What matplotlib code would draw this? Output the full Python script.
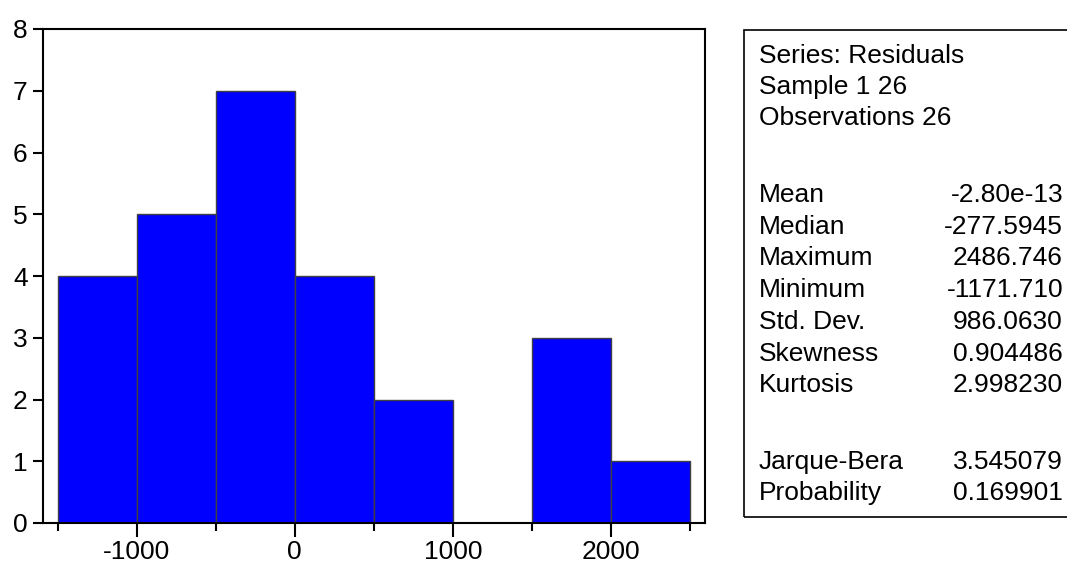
import numpy as np
import matplotlib
matplotlib.use("Agg")
import matplotlib.pyplot as plt
from matplotlib.patches import Rectangle

plt.rcParams['font.family'] = ['Liberation Sans', 'DejaVu Sans']
plt.rcParams['axes.unicode_minus'] = False

# histogram of residuals
bin_left = [-1500, -1000, -500, 0, 500, 1000, 1500, 2000]
bin_width = 500
counts = [4, 5, 7, 4, 2, 0, 3, 1]

# statistics panel
stat_header = ["Series: Residuals", "Sample 1 26", "Observations 26"]
stat_names = ["Mean", "Median", "Maximum", "Minimum", "Std. Dev.",
              "Skewness", "Kurtosis", "Jarque-Bera", "Probability"]
stat_values = ["-2.80e-13", "-277.5945", "2486.746", "-1171.710", "986.0630",
               "0.904486", "2.998230", "3.545079", "0.169901"]

W, H = 1067, 567
fig = plt.figure(figsize=(W / 100, H / 100), dpi=100)
ax = fig.add_axes([43 / W, 1 - 523 / H, (705 - 43) / W, (523 - 29) / H])

ax.bar(bin_left, counts, width=bin_width, align='edge',
       color='#0000ff', edgecolor='#404040', linewidth=1.0)

ax.set_xlim(-1593, 2595)
ax.set_ylim(0, 8)
ax.set_xticks([-1000, 0, 1000, 2000])
ax.set_xticks([-1500, -500, 500, 1500, 2500], minor=True)
ax.set_yticks(range(0, 9))
ax.tick_params(axis='both', which='major', labelsize=19, direction='out',
               width=1.5, colors='black')
ax.tick_params(axis='x', which='major', length=10, pad=2)
ax.tick_params(axis='x', which='minor', length=6, width=1.5)
ax.tick_params(axis='y', which='major', length=7, pad=4)
for s in ax.spines.values():
    s.set_linewidth(1.5)

# stats box
box = Rectangle((744 / W, 1 - 517 / H), 400 / W, (517 - 30) / H,
                transform=fig.transFigure, fill=False, edgecolor='black',
                linewidth=1.2, clip_on=False)
fig.patches.append(box)

x_lab = 759 / W
x_val = 1063 / W
fs = 19
head_base = [63.4, 94.0, 125.0]
stat_base = [201.7 + 31.8 * i for i in range(7)] + [469.4, 500.2]
for t, yb in zip(stat_header, head_base):
    fig.text(x_lab, 1 - yb / H, t, fontsize=fs, va='baseline', ha='left')
for n, v, yb in zip(stat_names, stat_values, stat_base):
    fig.text(x_lab, 1 - yb / H, n, fontsize=fs, va='baseline', ha='left')
    fig.text(x_val, 1 - yb / H, v, fontsize=fs, va='baseline', ha='right')

fig.savefig("out.png", dpi=100)
